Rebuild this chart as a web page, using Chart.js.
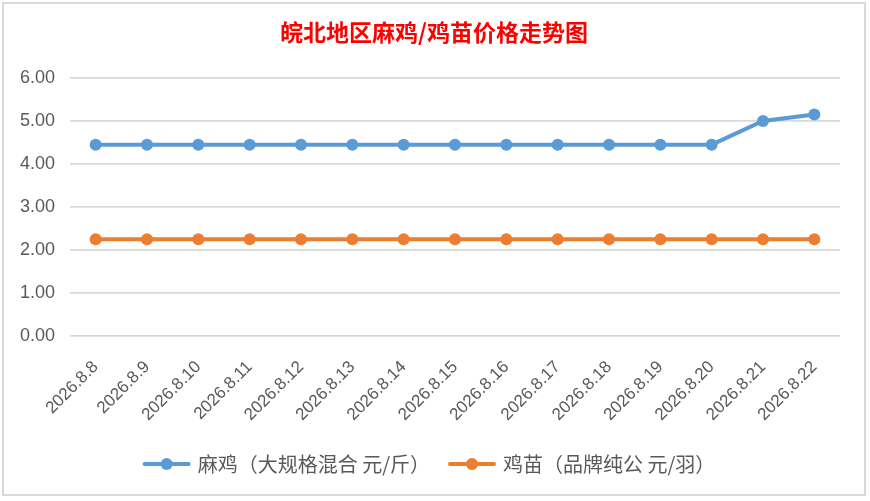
<!DOCTYPE html>
<html>
<head>
<meta charset="utf-8">
<script src="https://cdn.jsdelivr.net/npm/chart.js@4.4.1/dist/chart.umd.min.js"></script>
<style>
  html, body { margin: 0; padding: 0; background: #fff; }
  #wrap { width: 870px; height: 501px; position: relative; }
</style>
</head>
<body>
<div id="wrap"><canvas id="chart" width="870" height="501"></canvas></div>
<script>
// data
const titleText = "皖北地区麻鸡/鸡苗价格走势图";
const dates = ["2026.8.8", "2026.8.9", "2026.8.10", "2026.8.11", "2026.8.12", "2026.8.13", "2026.8.14",
  "2026.8.15", "2026.8.16", "2026.8.17", "2026.8.18", "2026.8.19", "2026.8.20", "2026.8.21", "2026.8.22"];
const majiName = "麻鸡（大规格混合 元/斤）";
const majiPrices = [4.45, 4.45, 4.45, 4.45, 4.45, 4.45, 4.45, 4.45, 4.45, 4.45, 4.45, 4.45, 4.45, 5.00, 5.15];
const jimiaoName = "鸡苗（品牌纯公 元/羽）";
const jimiaoPrices = [2.25, 2.25, 2.25, 2.25, 2.25, 2.25, 2.25, 2.25, 2.25, 2.25, 2.25, 2.25, 2.25, 2.25, 2.25];
const yTicks = [0, 1, 2, 3, 4, 5, 6];

const BLUE = "#5b9bd5";
const ORANGE = "#ed7d31";
const TEXT = "#595959";
const CJK = '"Noto Sans CJK SC", "Noto Sans", sans-serif';

// border, title and the Excel-like legend (line + dot)
const frame = {
  id: "frame",
  beforeDraw(chart) {
    const ctx = chart.ctx;
    ctx.save();
    ctx.strokeStyle = "#d9d9d9";
    ctx.lineWidth = 2;
    ctx.strokeRect(3, 3, 862, 492);
    ctx.restore();
  },
  afterDraw(chart) {
    const ctx = chart.ctx;
    ctx.save();
    ctx.fillStyle = "#ff0000";
    ctx.font = "bold 23px " + CJK;
    ctx.textAlign = "center";
    ctx.textBaseline = "middle";
    ctx.fillText(titleText, 434, 32);

    ctx.font = "20px " + CJK;
    ctx.textAlign = "left";
    const items = chart.data.datasets.map(ds => ({ text: ds.label, color: ds.borderColor, w: ctx.measureText(ds.label).width }));
    const lineLen = 48, gap = 7, sep = 18;
    let total = 0;
    items.forEach((it, i) => { total += lineLen + gap + it.w + (i ? sep : 0); });
    let x = 429 - total / 2;
    const y = 464;
    items.forEach((it, i) => {
      if (i) x += sep;
      ctx.strokeStyle = it.color;
      ctx.lineWidth = 4;
      ctx.lineCap = "round";
      ctx.beginPath();
      ctx.moveTo(x + 2, y);
      ctx.lineTo(x + lineLen - 2, y);
      ctx.stroke();
      ctx.fillStyle = it.color;
      ctx.beginPath();
      ctx.arc(x + lineLen / 2, y, 6, 0, Math.PI * 2);
      ctx.fill();
      ctx.fillStyle = TEXT;
      ctx.fillText(it.text, x + lineLen + gap, y);
      x += lineLen + gap + it.w;
    });
    ctx.restore();
  }
};

new Chart(document.getElementById("chart"), {
  type: "line",
  data: {
    labels: dates,
    datasets: [
      { label: majiName, data: majiPrices, borderColor: BLUE, backgroundColor: BLUE,
        pointBackgroundColor: BLUE, borderWidth: 4, pointRadius: 6, pointBorderWidth: 0, tension: 0 },
      { label: jimiaoName, data: jimiaoPrices, borderColor: ORANGE, backgroundColor: ORANGE,
        pointBackgroundColor: ORANGE, borderWidth: 4, pointRadius: 6, pointBorderWidth: 0, tension: 0 }
    ]
  },
  options: {
    responsive: false,
    animation: false,
    layout: { padding: { top: 78, right: 30, bottom: 75, left: 0 } },
    plugins: { legend: { display: false }, title: { display: false }, tooltip: { enabled: false } },
    scales: {
      x: {
        offset: true,
        grid: { display: false },
        border: { display: false },
        ticks: { color: TEXT, font: { family: "Liberation Sans", size: 17 }, minRotation: 45, maxRotation: 45, padding: 13, autoSkip: false },
        afterFit(s) { s.height = 90; }
      },
      y: {
        min: 0,
        max: 6,
        afterBuildTicks(s) { s.ticks = yTicks.map(v => ({ value: v })); },
        grid: { color: "#d9d9d9", lineWidth: 1.8, drawTicks: false },
        border: { display: false },
        ticks: { color: TEXT, font: { family: "Liberation Sans", size: 18 }, padding: 15, callback: v => Number(v).toFixed(2) },
        afterFit(s) { s.width = 70; }
      }
    }
  },
  plugins: [frame]
});
</script>
</body>
</html>
